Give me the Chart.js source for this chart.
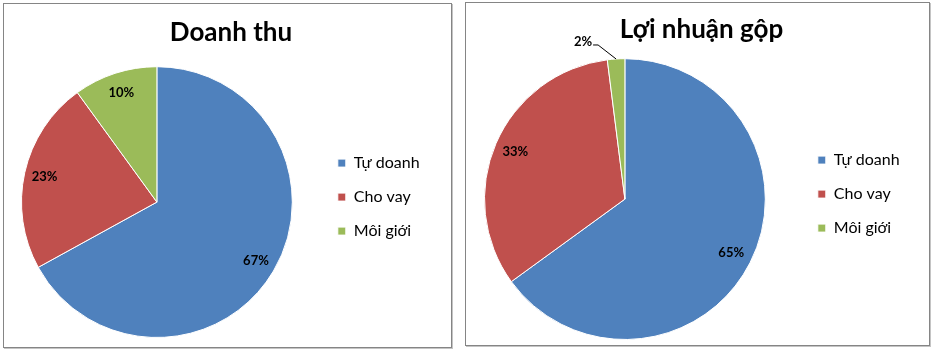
<!DOCTYPE html>
<html>
<head>
<meta charset="utf-8">
<script src="https://cdn.jsdelivr.net/npm/chart.js@4.4.1/dist/chart.umd.min.js"></script>
<style>
  html, body { margin: 0; padding: 0; background: #fff; }
  body { width: 938px; height: 353px; position: relative; overflow: hidden; }
  .panel { position: absolute; border: 1px solid #858585; box-shadow: 1px 1px 0 #c4c4c4; background: #fff; }
  #p1 { left: 3px; top: 3px; width: 447px; height: 343px; }
  #p2 { left: 465px; top: 2px; width: 463px; height: 342px; }
  canvas { display: block; }
</style>
</head>
<body>
<div class="panel" id="p1"><canvas id="revenue" width="447" height="343"></canvas></div>
<div class="panel" id="p2"><canvas id="profit" width="463" height="342"></canvas></div>
<script>
const categories = ["Tự doanh", "Cho vay", "Môi giới"];
const revenueValues = [67, 23, 10];
const profitValues = [65, 33, 2];
const colors = ["#4F81BD", "#C0504D", "#9BBB59"];

// keep the pie area square and put the legend a fixed gap to its right
const squarePlot = {
  id: "squarePlot",
  afterLayout(chart, args, opts) {
    const area = chart.chartArea;
    area.right = area.left + area.height;
    area.width = area.height;
    const lg = chart.legend;
    const w = lg.width;
    lg.left = area.right + opts.gap;
    lg.right = lg.left + w;
    lg.top = area.top + opts.dy;
    lg.bottom = area.bottom + opts.dy;
  }
};

// percent labels inside slices, small slices outside with a leader line
const pctLabels = {
  id: "pctLabels",
  afterDatasetsDraw(chart) {
    const ctx = chart.ctx;
    const meta = chart.getDatasetMeta(0);
    const values = chart.data.datasets[0].data;
    const total = values.reduce((a, b) => a + b, 0);
    ctx.save();
    ctx.font = "bold 13px Lato";
    ctx.fillStyle = "#000";
    meta.data.forEach((arc, i) => {
      const p = arc.getProps(["x", "y", "startAngle", "endAngle", "outerRadius"], true);
      const mid = (p.startAngle + p.endAngle) / 2;
      const text = Math.round(values[i] / total * 100) + "%";
      if (values[i] / total < 0.05) {
        const ex = p.x + Math.cos(mid) * p.outerRadius;
        const ey = p.y + Math.sin(mid) * p.outerRadius;
        const kx = ex - 18, ky = ey - 14;
        ctx.strokeStyle = "#000";
        ctx.lineWidth = 1;
        ctx.beginPath();
        ctx.moveTo(ex, ey);
        ctx.lineTo(kx, ky);
        ctx.lineTo(kx - 5, ky);
        ctx.stroke();
        ctx.textAlign = "right";
        ctx.textBaseline = "middle";
        ctx.fillText(text, kx - 6, ky - 3);
      } else {
        const r = p.outerRadius * 0.85;
        ctx.textAlign = "center";
        ctx.textBaseline = "middle";
        ctx.fillText(text, p.x + Math.cos(mid) * r, p.y + Math.sin(mid) * r);
      }
    });
    ctx.restore();
  }
};

function pieChart(id, title, values, pad, titlePad, gap) {
  return new Chart(document.getElementById(id), {
    type: "pie",
    data: {
      labels: categories,
      datasets: [{
        data: values,
        backgroundColor: colors,
        borderColor: "#ffffff",
        borderWidth: 1
      }]
    },
    options: {
      responsive: false,
      animation: false,
      layout: { padding: pad },
      plugins: {
        title: {
          display: true,
          text: title,
          color: "#000",
          font: { family: "Lato", size: 26, weight: "bold", lineHeight: 1.2 },
          padding: titlePad
        },
        legend: {
          position: "right",
          fullSize: false,
          labels: {
            boxWidth: 8,
            boxHeight: 8,
            padding: 18,
            color: "#000",
            font: { family: "Lato", size: 16 }
          }
        },
        tooltip: { enabled: false },
        squarePlot: { gap: gap, dy: -5 }
      }
    },
    plugins: [squarePlot, pctLabels]
  });
}

pieChart("revenue", "Doanh thu", revenueValues, { left: 17, bottom: 9, top: 0, right: 10 }, { top: 13, bottom: 18 }, 27);
pieChart("profit", "Lợi nhuận gộp", profitValues, { left: 18, bottom: 5, top: 0, right: 10 }, { top: 11, bottom: 13 }, 34);
</script>
</body>
</html>
